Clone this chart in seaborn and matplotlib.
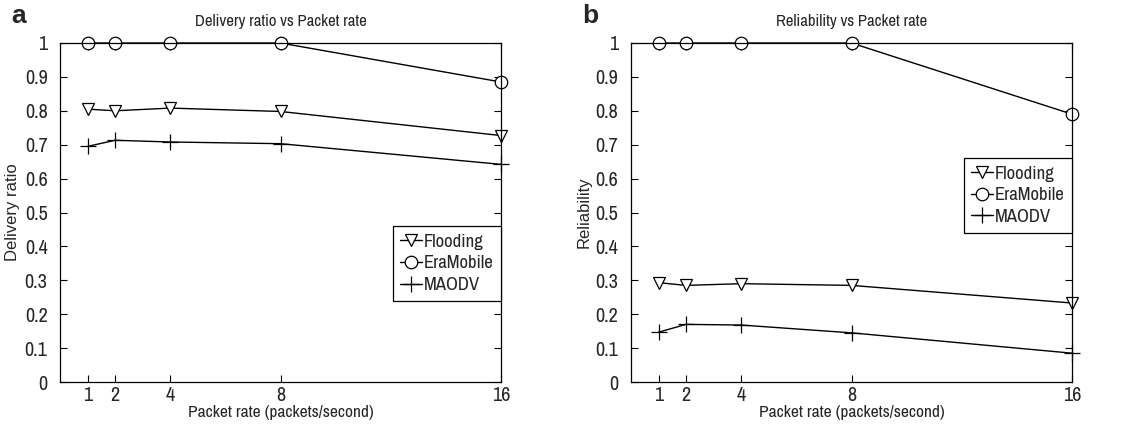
import matplotlib
matplotlib.use("Agg")
import matplotlib.pyplot as plt
import seaborn as sns
import pandas as pd

rates = [1, 2, 4, 8, 16]
series_names = ["Flooding", "EraMobile", "MAODV"]

delivery_flooding = [0.805, 0.800, 0.808, 0.798, 0.727]
delivery_eramobile = [1.0, 1.0, 1.0, 1.0, 0.885]
delivery_maodv = [0.695, 0.713, 0.708, 0.703, 0.642]

reliab_flooding = [0.293, 0.285, 0.290, 0.285, 0.233]
reliab_eramobile = [1.0, 1.0, 1.0, 1.0, 0.790]
reliab_maodv = [0.147, 0.170, 0.168, 0.145, 0.085]

y_ticks = [0, 0.1, 0.2, 0.3, 0.4, 0.5, 0.6, 0.7, 0.8, 0.9, 1.0]
y_tick_labels = ["0", "0.1", "0.2", "0.3", "0.4", "0.5", "0.6", "0.7", "0.8", "0.9", "1"]

sns.set_theme(style="white")
plt.rcParams["font.family"] = ["Archivo Narrow", "PT Sans Narrow", "Liberation Sans", "DejaVu Sans"]

fig = plt.figure(figsize=(11.21, 4.32), dpi=100)
ax_a = fig.add_axes([60 / 1121, 50 / 432, 441 / 1121, 339 / 432])
ax_b = fig.add_axes([631 / 1121, 50 / 432, 441 / 1121, 339 / 432])

markers = {"Flooding": "v", "EraMobile": "o", "MAODV": "+"}
msizes = {"Flooding": 9, "EraMobile": 9, "MAODV": 11}

panels = [
    (ax_a, [delivery_flooding, delivery_eramobile, delivery_maodv],
     "Delivery ratio vs Packet rate", "Delivery ratio", "a", (1.0, 0.46)),
    (ax_b, [reliab_flooding, reliab_eramobile, reliab_maodv],
     "Reliability vs Packet rate", "Reliability", "b", (1.0, 0.661)),
]

for ax, vals_list, title, ylabel, letter, anchor in panels:
    for name, vals in zip(series_names, vals_list):
        df = pd.DataFrame({"rate": rates, "value": vals})
        sns.lineplot(data=df, x="rate", y="value", ax=ax, color="black",
                     marker=markers[name], markersize=msizes[name],
                     markerfacecolor="white", markeredgecolor="black",
                     markeredgewidth=0.9, linewidth=1.0, clip_on=False,
                     label=name)
    ax.set_xlim(0, 16)
    ax.set_ylim(0, 1)
    ax.set_xticks(rates)
    ax.set_xticklabels([str(r) for r in rates], fontsize=14.5)
    ax.set_yticks(y_ticks)
    ax.set_yticklabels(y_tick_labels, fontsize=14.5)
    ax.tick_params(direction="in", length=5, width=0.8, color="black",
                   top=True, right=True, bottom=True, left=True)
    ax.tick_params(axis="y", pad=9)
    ax.tick_params(axis="x", pad=3)
    for s in ax.spines.values():
        s.set_color("black")
        s.set_linewidth(0.9)
    ax.set_title(title, fontsize=12, pad=12)
    ax.set_xlabel("Packet rate (packets/second)", fontsize=12.5, labelpad=0)
    ax.set_ylabel(ylabel, fontsize=12, family=["Liberation Sans", "DejaVu Sans"], labelpad=3)
    handles, labels = ax.get_legend_handles_labels()
    leg = ax.legend(handles, labels, loc="upper right", bbox_to_anchor=anchor,
                    fontsize=13.5, frameon=True, fancybox=False, framealpha=1,
                    edgecolor="black", handlelength=1.15, handletextpad=0.1,
                    borderpad=0.4, labelspacing=0.3, borderaxespad=0)
    leg.get_frame().set_linewidth(0.9)
    ax.text(-0.11, 1.045, letter, transform=ax.transAxes, fontsize=19,
            fontweight="bold", family=["Liberation Sans", "DejaVu Sans"],
            ha="left", va="bottom")

fig.savefig("out.png", dpi=100, facecolor="white")
